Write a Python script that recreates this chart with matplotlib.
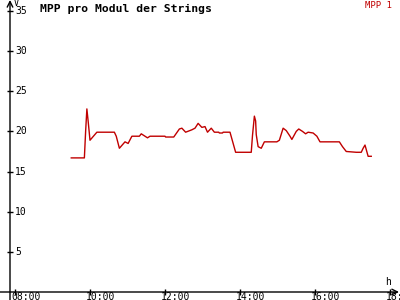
import numpy as np
import matplotlib
matplotlib.use("Agg")
import matplotlib.pyplot as plt
import matplotlib.transforms as mtransforms

# MPP 1 readings (time of day, volts)
times = ["09:30", "09:51", "09:53", "09:55", "09:57", "10:00", "10:11", "10:39",
         "10:42", "10:47", "10:56", "11:01", "11:07", "11:19", "11:22", "11:32",
         "11:36", "12:00", "12:01", "12:14", "12:23", "12:27", "12:33", "12:43",
         "12:48", "12:53", "12:59", "13:04", "13:08", "13:14", "13:19", "13:26",
         "13:27", "13:32", "13:33", "13:44", "13:53", "14:18", "14:20", "14:23",
         "14:25", "14:26", "14:29", "14:34", "14:39", "14:59", "15:03", "15:09",
         "15:14", "15:20", "15:23", "15:30", "15:34", "15:40", "15:45", "15:49",
         "15:57", "16:03", "16:08", "16:39", "16:44", "16:50", "17:06", "17:14",
         "17:17", "17:20", "17:25", "17:30"]
mpp1 = [16.7, 16.7, 20.0, 22.8, 21.3, 18.9, 19.9, 19.9,
        19.4, 17.9, 18.7, 18.5, 19.4, 19.4, 19.7, 19.2,
        19.4, 19.4, 19.3, 19.3, 20.3, 20.4, 19.9, 20.2,
        20.4, 21.0, 20.5, 20.6, 19.9, 20.4, 19.9, 19.9,
        19.8, 19.8, 19.9, 19.9, 17.4, 17.4, 19.5, 21.9,
        21.3, 19.6, 18.1, 17.9, 18.7, 18.7, 18.9, 20.4,
        20.1, 19.4, 19.0, 20.0, 20.3, 20.0, 19.7, 19.9,
        19.8, 19.4, 18.7, 18.7, 18.1, 17.5, 17.4, 17.4,
        17.9, 18.3, 16.9, 16.9]

xticks = [8, 10, 12, 14, 16, 18]
xticklabels = ["08:00", "10:00", "12:00", "14:00", "16:00", "18:00"]
yticks = [5, 10, 15, 20, 25, 30, 35]

def to_hours(t):
    h, m = t.split(":")
    return int(h) + int(m) / 60.0

hours = np.array([to_hours(t) for t in times])

mono = "DejaVu Sans Mono"
red = "#c00000"

fig = plt.figure(figsize=(4, 3), dpi=100)
ax = fig.add_axes([10 / 400, 8 / 300, 389 / 400, 292 / 300])
ax.set_xlim(8 - 5 / 37.5, 8 + 384 / 37.5)
ax.set_ylim(0, 292 / 8.03)

ax.plot(hours, mpp1, color=red, lw=1)

for s in ax.spines.values():
    s.set_visible(False)

# axis lines with open arrow heads
ax.annotate("", xy=(1.0, 0), xytext=(-10 / 389, 0), xycoords="axes fraction",
            arrowprops=dict(arrowstyle="->", lw=1, color="black", shrinkA=0, shrinkB=0))
ax.annotate("", xy=(0, 1.0), xytext=(0, -8 / 292), xycoords="axes fraction",
            arrowprops=dict(arrowstyle="->", lw=1, color="black", shrinkA=0, shrinkB=0))

ax.set_xticks(xticks)
ax.set_xticklabels(xticklabels, fontfamily=mono, fontsize=7)
ax.set_yticks(yticks)
ax.set_yticklabels([str(v) for v in yticks], fontfamily=mono, fontsize=7)
ax.tick_params(axis="x", direction="inout", length=4.5, width=1, pad=-2.5)
ax.tick_params(axis="y", direction="inout", length=4.5, width=1, pad=-5.8)
for lbl in ax.get_yticklabels():
    lbl.set_ha("left")
    lbl.set_va("center")
offset = mtransforms.ScaledTranslation(-4 / 100, 0, fig.dpi_scale_trans)
for lbl in ax.get_xticklabels():
    lbl.set_ha("left")
    lbl.set_transform(lbl.get_transform() + offset)

fig.text(40 / 400, 1 - 9 / 300, "MPP pro Modul der Strings", fontfamily=mono,
         fontweight="bold", fontsize=8.2, va="center", ha="left")
fig.text(392 / 400, 1 - 5.5 / 300, "MPP 1", fontfamily=mono, fontsize=6.5,
         color=red, va="center", ha="right")
fig.text(14 / 400, 1 - 4 / 300, "V", fontfamily=mono, fontsize=6, va="center", ha="left")
fig.text(385 / 400, 1 - 282 / 300, "h", fontfamily=mono, fontsize=7, va="center", ha="left")

fig.savefig("out.png", dpi=100, facecolor="white")
